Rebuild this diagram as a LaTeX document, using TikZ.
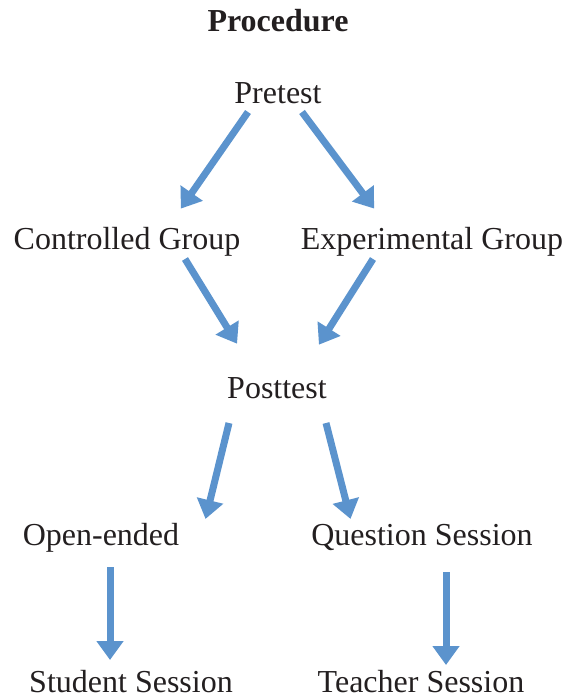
\documentclass[tikz,border=0pt]{standalone}
\usepackage{fontspec}
\setmainfont{Liberation Serif}
\usetikzlibrary{arrows.meta}
\definecolor{arrowblue}{HTML}{5B93CD}
\definecolor{inkgray}{HTML}{231F20}
\tikzset{
  lbl/.style={anchor=base, inner sep=0pt, text=inkgray, font=\fontsize{32}{38}\selectfont},
  flow/.style={draw=arrowblue, line width=7pt, -{Triangle[width=26pt,length=19pt]}, shorten >=-2pt}
}
\begin{document}
\begin{tikzpicture}[x=1pt,y=-1pt]
\useasboundingbox (0,0) rectangle (566,698);
\node[lbl, font=\fontsize{32}{38}\selectfont\bfseries] (title) at (278,32) {Procedure};
\node[lbl] (pre) at (278,103) {Pretest};
\node[lbl] (ctl) at (127,249) {Controlled Group};
\node[lbl] (exp) at (432,249) {Experimental Group};
\node[lbl] (post) at (277,398) {Posttest};
\node[lbl] (open) at (101,545) {Open-ended};
\node[lbl] (ques) at (422,545) {Question Session};
\node[lbl] (stud) at (131,692) {Student Session};
\node[lbl] (teach) at (421,692) {Teacher Session};
% arrow end points
\coordinate (a1s) at (248,112); \coordinate (a1e) at (182,207);
\coordinate (a2s) at (302,112); \coordinate (a2e) at (373,207);
\coordinate (a3s) at (185,259); \coordinate (a3e) at (236,342);
\coordinate (a4s) at (373,259); \coordinate (a4e) at (320,343);
\coordinate (a5s) at (229,423); \coordinate (a5e) at (206,517);
\coordinate (a6s) at (326,423); \coordinate (a6e) at (350,517);
\coordinate (a7s) at (110,567); \coordinate (a7e) at (110,658);
\coordinate (a8s) at (446,572); \coordinate (a8e) at (446,663);
\draw[flow] (a1s) -- (a1e);
\draw[flow] (a2s) -- (a2e);
\draw[flow] (a3s) -- (a3e);
\draw[flow] (a4s) -- (a4e);
\draw[flow] (a5s) -- (a5e);
\draw[flow] (a6s) -- (a6e);
\draw[flow] (a7s) -- (a7e);
\draw[flow] (a8s) -- (a8e);
\end{tikzpicture}
\end{document}
